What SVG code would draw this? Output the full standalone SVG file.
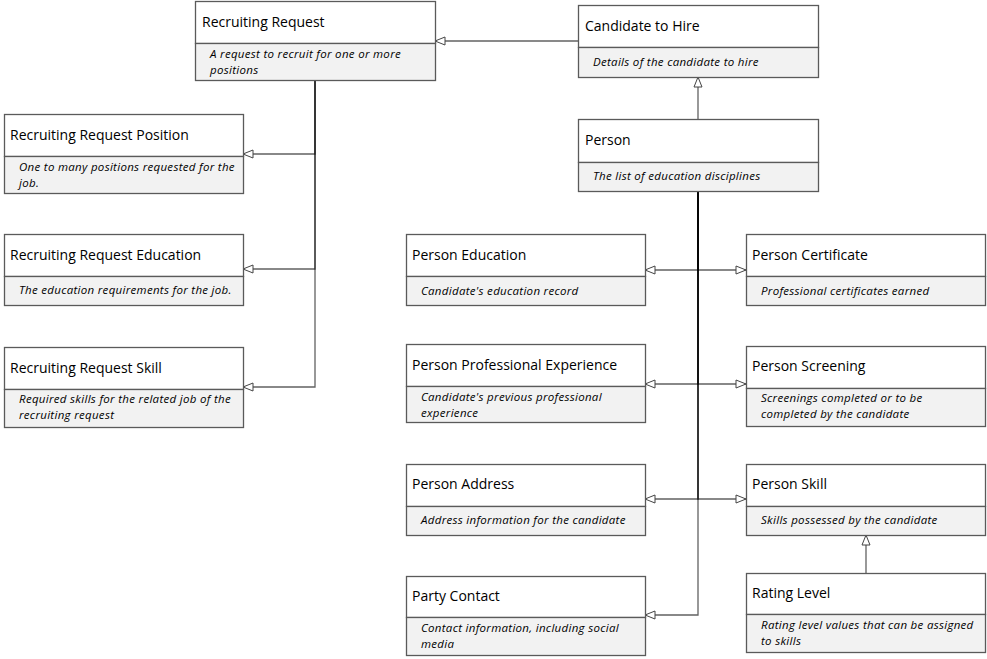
<svg xmlns="http://www.w3.org/2000/svg" width="987" height="659" viewBox="0 0 987 659">
<defs>
<style>
.hd{fill:#ffffff;stroke:#5a5a5a;stroke-width:1.3}
.bd{fill:#f2f2f2;stroke:#5a5a5a;stroke-width:1.3}
.t{font-family:"Open Sans","Noto Sans",sans-serif;font-size:14px;fill:#000}
.d{font-family:"Open Sans","Noto Sans",sans-serif;font-size:11.5px;font-style:italic;letter-spacing:0.3px;fill:#000}
.c{fill:none;stroke:#000;stroke-opacity:0.62;stroke-width:1.3}
</style>
<marker id="tri" markerUnits="userSpaceOnUse" markerWidth="12" markerHeight="10" refX="11" refY="5" orient="auto">
<path d="M1,1 L11,5 L1,9 Z" fill="#fff" stroke="#444" stroke-width="1"/>
</marker>
</defs>
<rect width="987" height="659" fill="#fff"/>
<g id="connectors">
<path class="c" d="M578,41 H435" marker-end="url(#tri)"/>
<path class="c" d="M698,119 V77" marker-end="url(#tri)"/>
<path class="c" d="M315,81 V154 H243" marker-end="url(#tri)"/>
<path class="c" d="M315,81 V269 H243" marker-end="url(#tri)"/>
<path class="c" d="M315,81 V387 H243" marker-end="url(#tri)"/>
<path class="c" d="M698,191 V270 H645" marker-end="url(#tri)"/>
<path class="c" d="M698,191 V270 H746" marker-end="url(#tri)"/>
<path class="c" d="M698,191 V384 H645" marker-end="url(#tri)"/>
<path class="c" d="M698,191 V384 H746" marker-end="url(#tri)"/>
<path class="c" d="M698,191 V499 H645" marker-end="url(#tri)"/>
<path class="c" d="M698,191 V499 H746" marker-end="url(#tri)"/>
<path class="c" d="M698,191 V615 H645" marker-end="url(#tri)"/>
<path class="c" d="M866,573 V535" marker-end="url(#tri)"/>
</g>
<g id="recruiting-request">
<rect class="hd" x="195.5" y="1.5" width="240" height="42"/>
<rect class="bd" x="195.5" y="43.5" width="240" height="37"/>
<text class="t" x="202" y="27">Recruiting Request</text>
<text class="d" x="210" y="58">A request to recruit for one or more</text>
<text class="d" x="210" y="74">positions</text>
</g>
<g id="candidate-to-hire">
<rect class="hd" x="578.5" y="5.5" width="240" height="42"/>
<rect class="bd" x="578.5" y="47.5" width="240" height="30"/>
<text class="t" x="585" y="31">Candidate to Hire</text>
<text class="d" x="593" y="66">Details of the candidate to hire</text>
</g>
<g id="person">
<rect class="hd" x="578.5" y="119.5" width="240" height="43"/>
<rect class="bd" x="578.5" y="162.5" width="240" height="29"/>
<text class="t" x="585" y="145">Person</text>
<text class="d" x="593" y="180">The list of education disciplines</text>
</g>
<g id="recruiting-request-position">
<rect class="hd" x="4.5" y="114.5" width="239" height="42"/>
<rect class="bd" x="4.5" y="156.5" width="239" height="37"/>
<text class="t" x="10" y="140">Recruiting Request Position</text>
<text class="d" x="19" y="171">One to many positions requested for the</text>
<text class="d" x="19" y="187">job.</text>
</g>
<g id="recruiting-request-education">
<rect class="hd" x="4.5" y="234.5" width="239" height="42"/>
<rect class="bd" x="4.5" y="276.5" width="239" height="29"/>
<text class="t" x="10" y="260">Recruiting Request Education</text>
<text class="d" x="19" y="294">The education requirements for the job.</text>
</g>
<g id="recruiting-request-skill">
<rect class="hd" x="4.5" y="347.5" width="239" height="42"/>
<rect class="bd" x="4.5" y="389.5" width="239" height="38"/>
<text class="t" x="10" y="373">Recruiting Request Skill</text>
<text class="d" x="19" y="403">Required skills for the related job of the</text>
<text class="d" x="19" y="419">recruiting request</text>
</g>
<g id="person-education">
<rect class="hd" x="406.5" y="234.5" width="239" height="42"/>
<rect class="bd" x="406.5" y="276.5" width="239" height="29"/>
<text class="t" x="412" y="260">Person Education</text>
<text class="d" x="421" y="295">Candidate's education record</text>
</g>
<g id="person-certificate">
<rect class="hd" x="746.5" y="234.5" width="239" height="42"/>
<rect class="bd" x="746.5" y="276.5" width="239" height="29"/>
<text class="t" x="752" y="260">Person Certificate</text>
<text class="d" x="761" y="295">Professional certificates earned</text>
</g>
<g id="person-professional-experience">
<rect class="hd" x="406.5" y="344.5" width="239" height="42"/>
<rect class="bd" x="406.5" y="386.5" width="239" height="36"/>
<text class="t" x="412" y="370">Person Professional Experience</text>
<text class="d" x="421" y="401">Candidate's previous professional</text>
<text class="d" x="421" y="417">experience</text>
</g>
<g id="person-screening">
<rect class="hd" x="746.5" y="346.5" width="239" height="42"/>
<rect class="bd" x="746.5" y="388.5" width="239" height="38"/>
<text class="t" x="752" y="371">Person Screening</text>
<text class="d" x="761" y="402">Screenings completed or to be</text>
<text class="d" x="761" y="418">completed by the candidate</text>
</g>
<g id="person-address">
<rect class="hd" x="406.5" y="464.5" width="239" height="42"/>
<rect class="bd" x="406.5" y="506.5" width="239" height="29"/>
<text class="t" x="412" y="489">Person Address</text>
<text class="d" x="421" y="524">Address information for the candidate</text>
</g>
<g id="person-skill">
<rect class="hd" x="746.5" y="464.5" width="239" height="42"/>
<rect class="bd" x="746.5" y="506.5" width="239" height="29"/>
<text class="t" x="752" y="489">Person Skill</text>
<text class="d" x="761" y="524">Skills possessed by the candidate</text>
</g>
<g id="party-contact">
<rect class="hd" x="406.5" y="576.5" width="239" height="41"/>
<rect class="bd" x="406.5" y="617.5" width="239" height="38"/>
<text class="t" x="412" y="601">Party Contact</text>
<text class="d" x="421" y="632">Contact information, including social</text>
<text class="d" x="421" y="648">media</text>
</g>
<g id="rating-level">
<rect class="hd" x="746.5" y="573.5" width="239" height="41"/>
<rect class="bd" x="746.5" y="614.5" width="239" height="38"/>
<text class="t" x="752" y="598">Rating Level</text>
<text class="d" x="761" y="629">Rating level values that can be assigned</text>
<text class="d" x="761" y="645">to skills</text>
</g>
</svg>
